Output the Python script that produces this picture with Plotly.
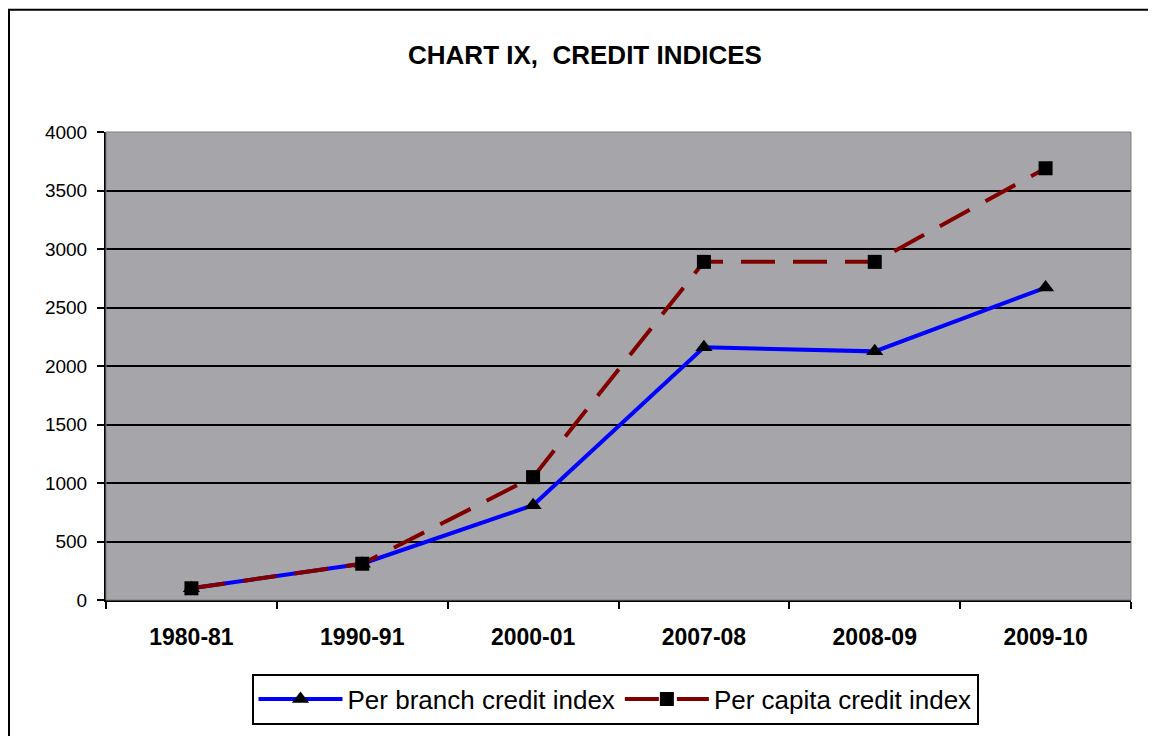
import plotly.graph_objects as go

categories = ["1980-81", "1990-91", "2000-01", "2007-08", "2008-09", "2009-10"]
per_branch = [100, 310, 810, 2160, 2125, 2670]
per_capita = [100, 310, 1050, 2890, 2890, 3690]
y_ticks = [0, 500, 1000, 1500, 2000, 2500, 3000, 3500, 4000]

FONT = "Arial, Liberation Sans, sans-serif"

fig = go.Figure()
fig.add_trace(go.Scatter(
    x=categories, y=per_branch, name="Per branch credit index",
    mode="lines+markers",
    line=dict(color="#0000FF", width=4),
    marker=dict(symbol="triangle-up", size=15, color="black"),
))
fig.add_trace(go.Scatter(
    x=categories, y=per_capita, name="Per capita credit index",
    mode="lines+markers",
    line=dict(color="#800000", width=4, dash="34px,18px"),
    marker=dict(symbol="square", size=14, color="black"),
))

# figure sits inside the page's 8px body margin
OFF = 8
W, H = 1156 - 2 * OFF, 744 - 2 * OFF
L, T = 106 - OFF, 132 - OFF
R = W - (1131 - OFF)
B = H - (603 - OFF)
pw, ph = W - L - R, H - T - B

def px_x(px):
    return (px - OFF - L) / pw

def px_y(py):
    return (H - B - (py - OFF)) / ph

# outer chart border (left and top edges visible)
fig.add_shape(type="rect", xref="paper", yref="paper",
              x0=px_x(9), x1=px_x(1180), y0=px_y(780), y1=px_y(9),
              line=dict(color="black", width=2), fillcolor="rgba(0,0,0,0)", layer="below")
# plot area frame (gray)
fig.add_shape(type="rect", xref="paper", yref="paper", x0=0, x1=1, y0=0, y1=1,
              line=dict(color="#7F7F7F", width=1), fillcolor="rgba(0,0,0,0)", layer="above")

fig.update_layout(
    width=W, height=H,
    margin=dict(l=L, r=R, t=T, b=B),
    paper_bgcolor="white",
    plot_bgcolor="#A6A6AA",
    title=dict(text="<b>CHART IX,&nbsp;&nbsp;CREDIT INDICES</b>", x=(585 - OFF) / W, xanchor="center",
               y=1 - (55 - OFF) / H, yanchor="middle",
               font=dict(family=FONT, size=26, color="black")),
    font=dict(family=FONT, color="black"),
    xaxis=dict(
        type="category", range=[-0.5, len(categories) - 0.5], autorange=False,
        tickson="boundaries", ticks="outside", ticklen=7, tickwidth=2,
        tickcolor="black", showline=True, linecolor="black", linewidth=2,
        showgrid=False, tickfont=dict(family=FONT, size=23, color="black", weight="bold"),
        ticklabelstandoff=15,
    ),
    yaxis=dict(
        range=[0, 4000], tickvals=y_ticks, ticks="outside", ticklen=7, tickwidth=2,
        tickcolor="black", showline=True, linecolor="black", linewidth=2,
        showgrid=True, gridcolor="black", gridwidth=2, zeroline=False,
        tickfont=dict(family=FONT, size=19, color="black"),
        ticklabelstandoff=6,
    ),
    legend=dict(
        orientation="h", x=(615 - OFF - L) / pw, xanchor="center", y=px_y(677), yanchor="top",
        bordercolor="black", borderwidth=2, bgcolor="white",
        font=dict(family=FONT, size=26, color="black"),
        itemwidth=84, tracegroupgap=0,
    ),
    showlegend=True,
)

fig.write_html("out.html")
